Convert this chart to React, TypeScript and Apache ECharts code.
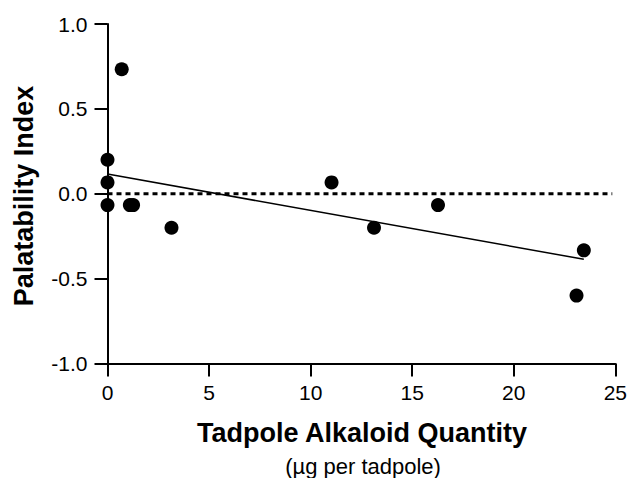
import React, { useEffect, useRef } from "react";
import * as echarts from "echarts";

const alkaloidX: number[] = [0, 0, 0, 0.7, 1.1, 1.26, 3.15, 11.03, 13.12, 16.27, 23.09, 23.45];
const palatabilityY: number[] = [0.2, 0.0667, -0.0667, 0.7333, -0.0667, -0.0667, -0.2, 0.0667, -0.2, -0.0667, -0.6, -0.3333];
const fitX: number[] = [0, 23.45];
const fitY: number[] = [0.116, -0.386];
const zeroLineX: number[] = [0, 24.85];
const xTicks: number[] = [0, 5, 10, 15, 20, 25];
const yTicks: number[] = [-1.0, -0.5, 0.0, 0.5, 1.0];

const FONT = '"Liberation Sans", Arial, Helvetica, sans-serif';

export default function App() {
  const ref = useRef<HTMLDivElement>(null);
  useEffect(() => {
    document.body.style.margin = "0";
    if (!ref.current) return;
    const chart = echarts.init(ref.current, null, { renderer: "svg" });
    const points = alkaloidX.map((x, i) => [x, palatabilityY[i]]);
    const fit = fitX.map((x, i) => [x, fitY[i]]);
    const zero = zeroLineX.map((x) => [x, 0]);
    chart.setOption({
      animation: false,
      backgroundColor: "#ffffff",
      grid: { left: 107.5, right: 13.5, top: 24, bottom: 114.5 },
      xAxis: {
        type: "value",
        min: xTicks[0],
        max: xTicks[xTicks.length - 1],
        interval: 5,
        splitLine: { show: false },
        axisLine: { show: true, onZero: false, lineStyle: { color: "#000", width: 2 } },
        axisTick: { show: true, length: 13, lineStyle: { color: "#000", width: 2 } },
        axisLabel: { color: "#000", fontSize: 21, fontFamily: FONT, margin: 18 },
      },
      yAxis: {
        type: "value",
        min: yTicks[0],
        max: yTicks[yTicks.length - 1],
        interval: 0.5,
        splitLine: { show: false },
        axisLine: { show: true, onZero: false, lineStyle: { color: "#000", width: 2 } },
        axisTick: { show: true, length: 13, lineStyle: { color: "#000", width: 2 } },
        axisLabel: {
          color: "#000",
          fontSize: 21,
          fontFamily: FONT,
          margin: 20,
          formatter: (v: number) => v.toFixed(1),
        },
      },
      series: [
        {
          type: "line",
          data: zero,
          symbol: "none",
          silent: true,
          z: 1,
          lineStyle: { color: "#000", width: 3, type: [5, 4] },
        },
        {
          type: "line",
          data: fit,
          symbol: "none",
          silent: true,
          z: 2,
          lineStyle: { color: "#000", width: 1.5 },
        },
        {
          type: "scatter",
          data: points,
          symbol: "circle",
          symbolSize: 14,
          z: 3,
          itemStyle: { color: "#000", opacity: 1 },
        },
      ],
      graphic: [
        {
          type: "text",
          x: 362,
          y: 433,
          style: {
            text: "Tadpole Alkaloid Quantity",
            font: `bold 27px ${FONT}`,
            fill: "#000",
            align: "center",
            verticalAlign: "middle",
          },
        },
        {
          type: "text",
          x: 363,
          y: 466,
          style: {
            text: "(µg per tadpole)",
            font: `22px ${FONT}`,
            fill: "#000",
            align: "center",
            verticalAlign: "middle",
          },
        },
        {
          type: "text",
          x: 24,
          y: 196,
          rotation: Math.PI / 2,
          style: {
            text: "Palatability Index",
            font: `bold 27px ${FONT}`,
            fill: "#000",
            align: "center",
            verticalAlign: "middle",
          },
        },
      ],
    });
    return () => chart.dispose();
  }, []);
  return <div ref={ref} style={{ width: 630, height: 478 }} />;
}
